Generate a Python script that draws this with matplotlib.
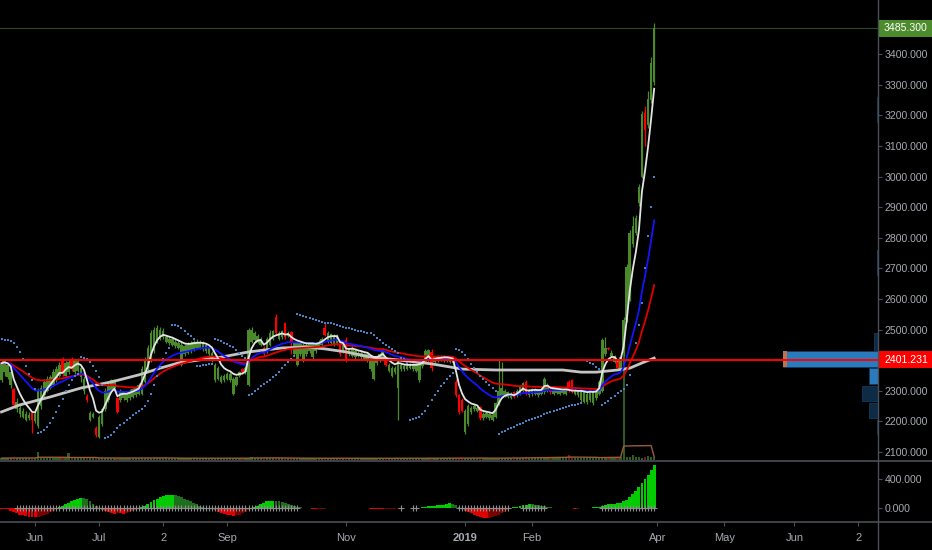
import matplotlib
matplotlib.use('Agg')
import matplotlib.pyplot as plt
import matplotlib.transforms as mtransforms
from matplotlib.patches import Rectangle
from matplotlib.lines import Line2D
import numpy as np
import pandas as pd

plt.rcParams['font.family'] = ['Liberation Sans', 'DejaVu Sans']

# ---- daily bars ----
opens = [
    2335, 2360, 2345, 2320, 2305, 2240, 2225, 2215, 2205, 2210,
    2228, 2200, 2185, 2250, 2285, 2300, 2310, 2320, 2335, 2350,
    2404, 2350, 2360, 2404, 2360, 2365, 2345, 2300, 2284, 2205,
    2215, 2180, 2150, 2190, 2240, 2270, 2300, 2310, 2276, 2270,
    2275, 2270, 2275, 2280, 2285, 2290, 2290, 2330, 2370, 2400,
    2430, 2460, 2470, 2475, 2460, 2455, 2450, 2445, 2440, 2385,
    2420, 2425, 2430, 2435, 2440, 2440, 2435, 2430, 2420, 2400,
    2335, 2340, 2330, 2335, 2340, 2335, 2290, 2320, 2350, 2370,
    2360, 2320, 2460, 2465, 2460, 2450, 2440, 2430, 2450, 2470,
    2540, 2470, 2475, 2520, 2480, 2492, 2420, 2385, 2420, 2400,
    2420, 2430, 2410, 2430, 2440, 2450, 2505, 2460, 2455, 2450,
    2455, 2450, 2430, 2466, 2420, 2415, 2410, 2415, 2410, 2405,
    2400, 2370, 2340, 2390, 2400, 2410, 2407, 2365, 2350, 2360,
    2310, 2370, 2370, 2372, 2375, 2370, 2365, 2335, 2380, 2395,
    2400, 2427, 2395, 2400, 2402, 2400, 2398, 2395, 2390, 2330,
    2286, 2270, 2165, 2190, 2230, 2240, 2235, 2247, 2210, 2215,
    2210, 2205, 2215, 2260, 2280, 2285, 2280, 2278, 2295, 2285,
    2290, 2300, 2329, 2285, 2288, 2290, 2285, 2290, 2296, 2300,
    2302, 2290, 2292, 2290, 2292, 2290, 2330, 2335, 2290, 2285,
    2270, 2265, 2262, 2270, 2260, 2275, 2290, 2300, 2420, 2440,
    2415, 2395, 2401, 2370, 2423, 2531, 2600, 2780, 2816, 2914,
    3000, 3208, 3170, 3250, 3310,
]
closes = [
    2390, 2398, 2385, 2360, 2255, 2265, 2245, 2235, 2225, 2220,
    2205, 2225, 2300, 2310, 2330, 2340, 2345, 2360, 2370, 2385,
    2358, 2390, 2395, 2370, 2400, 2400, 2375, 2340, 2270, 2228,
    2225, 2155, 2215, 2240, 2300, 2320, 2335, 2330, 2232, 2300,
    2295, 2290, 2300, 2305, 2310, 2320, 2370, 2400, 2440, 2490,
    2500, 2505, 2500, 2495, 2475, 2470, 2468, 2460, 2455, 2450,
    2445, 2450, 2455, 2458, 2460, 2458, 2455, 2450, 2440, 2425,
    2385, 2375, 2345, 2350, 2355, 2355, 2340, 2345, 2360, 2360,
    2375, 2500, 2500, 2490, 2480, 2470, 2420, 2470, 2490, 2495,
    2490, 2490, 2495, 2475, 2490, 2456, 2455, 2455, 2455, 2450,
    2450, 2455, 2455, 2450, 2460, 2470, 2482, 2490, 2485, 2480,
    2478, 2420, 2450, 2401, 2435, 2440, 2430, 2425, 2425, 2420,
    2420, 2400, 2400, 2410, 2420, 2435, 2385, 2385, 2375, 2375,
    2400, 2385, 2380, 2382, 2385, 2385, 2385, 2390, 2400, 2430,
    2433, 2375, 2410, 2412, 2410, 2412, 2410, 2405, 2400, 2285,
    2230, 2235, 2235, 2250, 2245, 2250, 2245, 2211, 2225, 2228,
    2225, 2220, 2260, 2300, 2310, 2300, 2295, 2290, 2280, 2300,
    2315, 2325, 2290, 2300, 2305, 2305, 2300, 2305, 2340, 2320,
    2295, 2305, 2304, 2303, 2302, 2305, 2300, 2296, 2300, 2298,
    2300, 2295, 2290, 2300, 2295, 2300, 2330, 2465, 2440, 2436,
    2425, 2410, 2375, 2410, 2531, 2705, 2816, 2840, 2865, 2966,
    3205, 3152, 3255, 3370, 3485.3,
]
highs = [
    2400, 2405, 2392, 2370, 2310, 2275, 2255, 2245, 2235, 2230,
    2232, 2230, 2310, 2320, 2340, 2350, 2352, 2370, 2380, 2395,
    2410, 2398, 2405, 2410, 2405, 2408, 2380, 2350, 2288, 2235,
    2232, 2185, 2220, 2245, 2308, 2330, 2340, 2340, 2280, 2305,
    2300, 2295, 2305, 2310, 2315, 2325, 2380, 2410, 2450, 2500,
    2510, 2515, 2508, 2505, 2482, 2478, 2475, 2470, 2462, 2460,
    2452, 2458, 2462, 2465, 2468, 2465, 2462, 2455, 2445, 2430,
    2390, 2380, 2352, 2355, 2360, 2360, 2345, 2350, 2366, 2374,
    2380, 2505, 2508, 2495, 2486, 2476, 2445, 2475, 2498, 2500,
    2550, 2496, 2500, 2525, 2496, 2496, 2460, 2460, 2460, 2455,
    2455, 2460, 2460, 2455, 2465, 2476, 2520, 2495, 2490, 2486,
    2484, 2455, 2455, 2475, 2440, 2445, 2436, 2430, 2430, 2425,
    2425, 2405, 2405, 2415, 2425, 2440, 2412, 2390, 2380, 2380,
    2405, 2390, 2386, 2388, 2390, 2390, 2390, 2395, 2405, 2435,
    2438, 2435, 2415, 2418, 2416, 2418, 2415, 2410, 2406, 2340,
    2290, 2275, 2240, 2258, 2250, 2256, 2250, 2250, 2230, 2233,
    2230, 2226, 2265, 2400, 2395, 2306, 2300, 2296, 2300, 2305,
    2320, 2330, 2335, 2305, 2310, 2310, 2305, 2310, 2345, 2325,
    2306, 2310, 2308, 2307, 2306, 2310, 2335, 2338, 2305, 2303,
    2305, 2300, 2295, 2305, 2300, 2305, 2335, 2472, 2475, 2444,
    2432, 2416, 2405, 2415, 2540, 2715, 2825, 2870, 2875, 2975,
    3215, 3230, 3280, 3390, 3502,
]
lows = [
    2330, 2350, 2340, 2310, 2250, 2230, 2215, 2210, 2200, 2205,
    2162, 2195, 2180, 2240, 2280, 2295, 2305, 2315, 2330, 2345,
    2350, 2345, 2355, 2365, 2355, 2360, 2330, 2290, 2265, 2200,
    2210, 2150, 2145, 2185, 2235, 2265, 2295, 2305, 2228, 2265,
    2270, 2265, 2270, 2275, 2280, 2285, 2285, 2325, 2365, 2395,
    2425, 2455, 2465, 2470, 2455, 2450, 2445, 2440, 2435, 2380,
    2415, 2420, 2425, 2430, 2435, 2435, 2430, 2425, 2415, 2395,
    2330, 2335, 2325, 2330, 2335, 2330, 2285, 2315, 2345, 2355,
    2355, 2315, 2455, 2460, 2455, 2445, 2415, 2425, 2445, 2465,
    2485, 2465, 2470, 2470, 2475, 2420, 2415, 2380, 2415, 2395,
    2415, 2425, 2405, 2425, 2435, 2445, 2478, 2455, 2450, 2445,
    2450, 2415, 2425, 2395, 2415, 2410, 2405, 2410, 2405, 2400,
    2395, 2365, 2335, 2385, 2395, 2405, 2380, 2360, 2345, 2355,
    2205, 2365, 2365, 2368, 2370, 2365, 2360, 2330, 2375, 2390,
    2395, 2365, 2390, 2395, 2397, 2395, 2393, 2390, 2385, 2280,
    2225, 2230, 2160, 2185, 2225, 2235, 2230, 2205, 2205, 2210,
    2205, 2200, 2210, 2255, 2275, 2280, 2275, 2272, 2275, 2280,
    2285, 2295, 2285, 2280, 2283, 2285, 2280, 2285, 2290, 2295,
    2290, 2285, 2288, 2286, 2288, 2286, 2296, 2292, 2285, 2280,
    2265, 2260, 2258, 2265, 2255, 2270, 2285, 2295, 2415, 2432,
    2410, 2390, 2370, 2365, 2415, 2525, 2595, 2770, 2810, 2905,
    2995, 3100, 3160, 3240, 3300,
]
volume = [
    14, 15, 13, 16, 18, 15, 14, 13, 15, 16,
    17, 15, 80, 22, 16, 15, 14, 13, 15, 14,
    16, 15, 65, 18, 14, 13, 15, 16, 17, 15,
    14, 16, 18, 15, 14, 13, 14, 15, 16, 14,
    13, 12, 13, 14, 13, 15, 18, 20, 19, 17,
    16, 15, 14, 13, 12, 13, 12, 14, 13, 12,
    14, 13, 12, 12, 13, 12, 13, 14, 13, 12,
    13, 12, 12, 13, 12, 12, 13, 12, 14, 13,
    12, 18, 30, 16, 14, 13, 13, 14, 15, 14,
    15, 13, 14, 15, 13, 14, 13, 12, 12, 13,
    12, 12, 13, 12, 12, 13, 14, 13, 12, 12,
    13, 12, 14, 13, 12, 12, 12, 11, 12, 12,
    12, 13, 12, 12, 13, 14, 12, 12, 12, 12,
    18, 13, 12, 12, 12, 12, 12, 13, 14, 13,
    14, 15, 13, 12, 12, 12, 12, 13, 13, 14,
    18, 16, 15, 16, 14, 13, 14, 13, 12, 12,
    12, 12, 13, 18, 17, 14, 13, 13, 12, 13,
    18, 20, 22, 19, 20, 21, 20, 22, 24, 22,
    20, 21, 20, 19, 22, 25, 45, 24, 20, 19,
    18, 17, 17, 18, 19, 20, 22, 30, 25, 22,
    20, 19, 20, 24, 1140, 30, 28, 45, 25, 22,
    20, 22, 35, 25, 24,
]
# squeeze momentum histogram
squeeze_hist = [
    -8, -12, -20, -35, -55, -75, -90, -100, -110, -118, -124, -125, -122, -115, -100, -80, -60, -35, -12,
    10, 30, 50, 75, 95, 115, 130, 138, 135, 120, 95, 60, 25,
    -10, -25, -45, -60, -70, -78, -65, -72, -80, -70, -55, -40, -25, -10,
    10, 30, 55, 80, 105, 125, 145, 160, 175, 183, 185, 178, 165, 150, 130, 110, 90, 70, 50, 30, 15,
    5, -5,
    -15, -30, -50, -70, -85, -95, -103, -106, -100, -90, -75, -55, -30, -10,
    10, 30, 55, 75, 90, 98, 102, 100, 95, 85, 75, 60, 45, 30, 20, 10, 5,
    0, -5, -12, -15, -12, -10, -8, -5, 0,
    0, 0, 0, 0, 0, 0, 0, 0, 0, 0, 0, 0,
    -8, -12, -15, -18, -20, -18, -15, -12, -10, -8, -6, -5, -3,
    0, 0, 0, 0,
    8, 15, 22, 28, 32, 36, 40, 45, 52, 62, 55, 40, 20,
    -15, -35, -55, -75, -95, -110, -122, -132, -138, -136, -128, -115, -98, -75, -50, -25, -8,
    8, 20, 32, 42, 48, 52, 50, 45, 38, 30, 22, 15, 8, 3,
    0, 0, 0, 0, 0,
    -6, -10, -8, -4,
    0, 0, 5, 10, 12, 15, 25, 40, 52, 55, 58, 62, 74, 90, 110, 150, 190, 240, 290, 340, 400, 460, 524, 593,
]
squeeze_off_spans = [(5, 97), (131, 131), (135, 136), (150, 166), (171, 178), (197, 214)]

# long moving average (bar index, price)
slow_ma_bars = [0, 6, 16, 26, 36, 45, 52, 58, 65, 72, 81, 92, 100, 106, 113, 121, 130, 136, 141,
                147, 151, 162, 173, 184, 190, 195, 202, 206, 210, 214]
slow_ma_vals = [2231, 2254, 2280, 2309, 2329, 2352, 2374, 2391, 2401, 2410, 2427, 2440, 2443, 2437,
                2427, 2410, 2401, 2394, 2388, 2378, 2371, 2368, 2368, 2368, 2361, 2361, 2368, 2374,
                2391, 2407]

level_price = 2401.231
last_price = 3485.3
sar_start = 2470

# volume profile (price bin, relative volume)
vp_lo = [2431, 2379, 2322, 2267, 2211, 2160, 2680, 3180]
vp_hi = [2489, 2431, 2375, 2316, 2260, 2205, 2760, 3260]
vp_vol = [4.3, 95, 9, 16.3, 9.3, 1.2, 1.5, 1.5]
vp_in_area = [False, True, True, False, False, False, True, False]

month_pos = [11, 32, 53, 74, 113, 152, 174, 215, 237, 260, 281]
month_labels = ['Jun', 'Jul', '2', 'Sep', 'Nov', '2019', 'Feb', 'Apr', 'May', 'Jun', '2']

price_ticks = [2100, 2200, 2300, 2500, 2600, 2700, 2800, 2900, 3000, 3100, 3200, 3300, 3400]
osc_ticks = [0, 400]


def psar(high, low, start, af0=0.02, step=0.02, afmax=0.2):
    n = len(high)
    out = np.zeros(n)
    up = False
    af = af0
    ep = low[0]
    sar = start
    out[0] = sar
    for i in range(1, n):
        sar = sar + af * (ep - sar)
        if up:
            sar = min(sar, low[i - 1], low[max(i - 2, 0)])
            if low[i] < sar:
                up, sar, ep, af = False, ep, low[i], af0
            elif high[i] > ep:
                ep, af = high[i], min(af + step, afmax)
        else:
            sar = max(sar, high[i - 1], high[max(i - 2, 0)])
            if high[i] > sar:
                up, sar, ep, af = True, ep, high[i], af0
            elif low[i] < ep:
                ep, af = low[i], min(af + step, afmax)
        out[i] = sar
    return out


x = np.arange(len(closes))
o = np.array(opens, float)
c = np.array(closes, float)
h = np.array(highs, float)
l = np.array(lows, float)
up = c >= o

ema_fast = pd.Series(c).ewm(span=5, adjust=False).mean()
ema_mid = pd.Series(c).ewm(span=20, adjust=False).mean()
ema_slow = pd.Series(c).ewm(span=40, adjust=False).mean()
sar = psar(h, l, sar_start)
vol_ma = pd.Series(volume, dtype=float).rolling(10, min_periods=1).mean()

W, H = 932, 550
AXR = 878
TEXT = '#a7aab2'
LINE = '#4b4e57'
FS = 7.6
fig = plt.figure(figsize=(W / 100, H / 100), dpi=100, facecolor='black')


def rect(lft, top, rgt, bot):
    return [lft / W, 1 - bot / H, (rgt - lft) / W, (bot - top) / H]


axv = fig.add_axes(rect(0, 0, AXR, 461))
ax = fig.add_axes(rect(0, 0, AXR, 461), sharex=axv)
axm = fig.add_axes(rect(0, 462, AXR, 522), sharex=axv)
ax.patch.set_alpha(0)
axv.set_facecolor('black')
axm.set_facecolor('black')

ax.set_xlim(-0.5, 287.4)
ylo, yhi = 2070.6, 3577.1
ax.set_ylim(ylo, yhi)
ppx = (yhi - ylo) / 461

# volume overlay
vcol = np.where(up, '#2f5c20', '#6e1c1c')
axv.bar(x, volume, width=0.75, color=vcol)
axv.plot(x, vol_ma, color='#9c5b36', lw=1.0)
axv.set_ylim(-15, 4595)
axv.axis('off')

# candles
ccol = np.where(up, '#4a8a2b', '#ff0000')
ax.vlines(x, l, h, colors=ccol, lw=0.9, zorder=2)
ax.bar(x, np.maximum(np.abs(c - o), 2.0), bottom=np.minimum(o, c), width=0.85,
       color=ccol, zorder=2, linewidth=0)

ax.plot(slow_ma_bars, slow_ma_vals, color='#c4c4c4', lw=2.0, zorder=3)
ax.plot(x, ema_slow, color='#e00000', lw=1.3, zorder=4)
ax.plot(x, ema_mid, color='#1414ff', lw=1.3, zorder=5)
ax.plot(x, ema_fast, color='#e4e4e4', lw=1.3, zorder=6)
ax.scatter(x, sar, s=4.5, color='#4683c6', marker='s', linewidths=0, zorder=6)

ax.axhline(last_price, color='#2c4a22', lw=0.8, zorder=1)
ax.axhline(level_price, color='#ff0000', lw=1.4, zorder=8)

# volume profile on the right edge
blend = mtransforms.blended_transform_factory(ax.transAxes, ax.transData)
vmax = max(vp_vol)
for lo_, hi_, v, ina in zip(vp_lo, vp_hi, vp_vol, vp_in_area):
    w = v / vmax * 95 / AXR
    ax.add_patch(Rectangle((1 - w, lo_), w, hi_ - lo_, transform=blend,
                           facecolor='#2a7bbd' if ina else '#0d2b45',
                           edgecolor='#123a5c', lw=0.6, zorder=7))
bw = vp_vol[1] / vmax * 95 / AXR
ax.add_patch(Rectangle((1 - bw, vp_lo[1]), 0.004, vp_hi[1] - vp_lo[1], transform=blend,
                       facecolor='#c0704a', lw=0, zorder=7))

# price axis
ax.yaxis.tick_right()
ax.set_yticks(price_ticks)
ax.set_yticklabels([f'{v:.3f}' for v in price_ticks])
ax.tick_params(axis='y', colors=LINE, labelcolor=TEXT, length=3, width=0.8, pad=2, labelsize=FS)
ax.tick_params(axis='x', bottom=False, labelbottom=False)
for s in ax.spines.values():
    s.set_visible(False)

for price, fc, txt in [(last_price, '#4c8c2c', '3485.300'), (level_price, '#ff0000', '2401.231')]:
    ax.add_patch(Rectangle((1.0, price - 8.5 * ppx), (W - AXR) / AXR, 17 * ppx, transform=blend,
                           facecolor=fc, lw=0, clip_on=False, zorder=9))
    ax.text(884 / AXR, price, txt, transform=blend, color='white', fontsize=FS,
            va='center', ha='left', zorder=10, clip_on=False)

# squeeze momentum panel
hv = np.array(squeeze_hist, float)
prev = np.concatenate([[0], hv[:-1]])
hcol = np.where(hv > 0, np.where(hv > prev, '#00cc00', '#1d6e1d'),
                np.where(hv < prev, '#e00000', '#7a0000'))
axm.bar(x, hv, width=0.95, color=hcol, linewidth=0)
off = np.zeros(len(hv), bool)
for a, b in squeeze_off_spans:
    off[a:b + 1] = True
axm.scatter(x[off], np.zeros(off.sum()), marker='+', s=14, color='#8e8e8e', linewidths=0.8, zorder=3)
axm.set_ylim(-193, 634)
axm.yaxis.tick_right()
axm.set_yticks(osc_ticks)
axm.set_yticklabels([f'{v:.3f}' for v in osc_ticks])
axm.tick_params(axis='y', colors=LINE, labelcolor=TEXT, length=3, width=0.8, pad=2, labelsize=FS)
axm.set_xticks(month_pos)
axm.set_xticklabels(month_labels)
axm.tick_params(axis='x', colors=LINE, labelcolor=TEXT, length=3, width=0.8, pad=5, labelsize=FS + 0.4)
for t in axm.get_xticklabels():
    if t.get_text() == '2019':
        t.set_fontweight('bold')
for s in axm.spines.values():
    s.set_visible(False)

# panel separators and axis line
for yy in (461, 522):
    fig.add_artist(Line2D([0, 1], [1 - yy / H] * 2, color=LINE, lw=1.2))
fig.add_artist(Line2D([AXR / W] * 2, [0, 1], color=LINE, lw=1.0))

fig.savefig('out.png', dpi=100, facecolor='black')
